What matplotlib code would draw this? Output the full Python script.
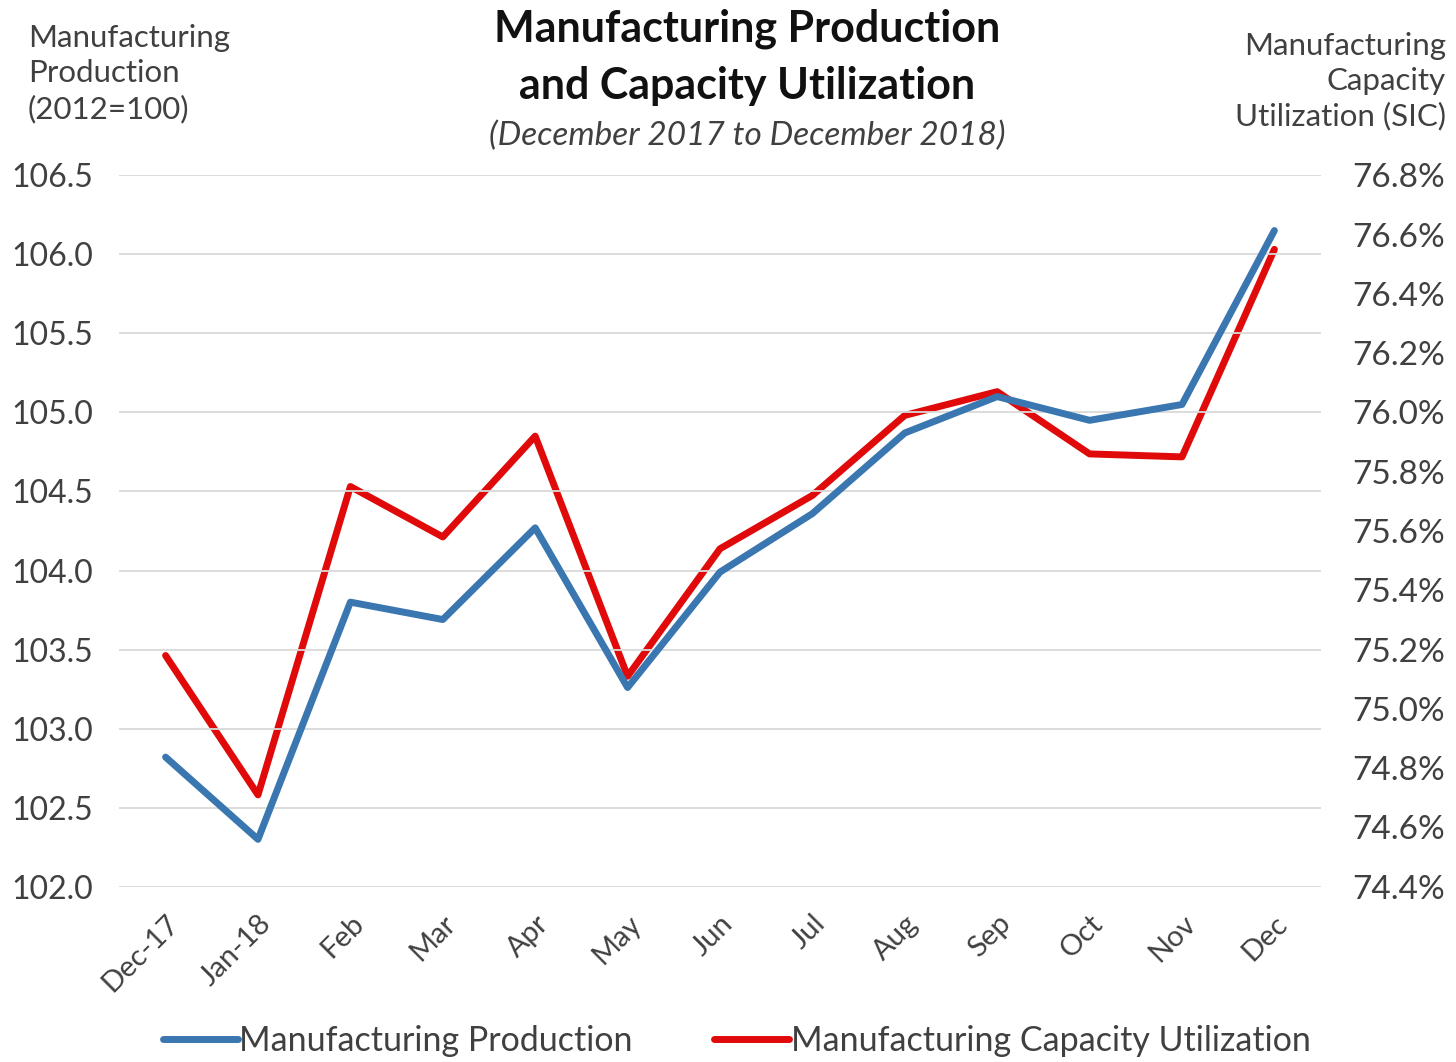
import numpy as np
import matplotlib.pyplot as plt
from matplotlib.ticker import FuncFormatter

plt.rcParams['font.family'] = ['Lato', 'DejaVu Sans']

months = ["Dec-17", "Jan-18", "Feb", "Mar", "Apr", "May", "Jun",
          "Jul", "Aug", "Sep", "Oct", "Nov", "Dec"]
production = [102.82, 102.30, 103.80, 103.69, 104.27, 103.26, 103.99,
              104.36, 104.87, 105.10, 104.95, 105.05, 106.15]
capacity = [75.18, 74.71, 75.75, 75.58, 75.92, 75.11, 75.54,
            75.72, 75.99, 76.07, 75.86, 75.85, 76.55]

blue = '#3a76b0'
red = '#e00a0a'
text_col = '#404040'

fig = plt.figure(figsize=(14.56, 10.62), dpi=100)
ax = fig.add_axes([0.082, 0.165, 0.825, 0.670])
ax2 = ax.twinx()

x = np.arange(len(months))
l1, = ax.plot(x, production, color=blue, lw=5, solid_joinstyle='round',
              solid_capstyle='round', label='Manufacturing Production')
l2, = ax2.plot(x, capacity, color=red, lw=5, solid_joinstyle='round',
               solid_capstyle='round',
               label='Manufacturing Capacity Utilization')

ax.set_xlim(-0.5, len(months) - 0.5)
ax.set_ylim(102.0, 106.5)
ax.set_yticks(np.arange(102.0, 106.51, 0.5))
ax.yaxis.set_major_formatter(FuncFormatter(lambda v, p: f'{v:.1f}'))
ax2.set_ylim(74.4, 76.8)
ax2.set_yticks(np.arange(74.4, 76.81, 0.2))
ax2.yaxis.set_major_formatter(FuncFormatter(lambda v, p: f'{v:.1f}%'))

ax.grid(axis='y', color='#d9d9d9', lw=1.3)
ax.set_axisbelow(True)
for a in (ax, ax2):
    for s in a.spines.values():
        s.set_visible(False)
    a.tick_params(length=0, colors=text_col, labelsize=23)
ax.tick_params(axis='y', pad=19)
ax2.tick_params(axis='y', pad=23, labelsize=24)
ax.set_xticks(x)
ax.set_xticklabels(months, rotation=45, ha='right', rotation_mode='anchor',
                   fontsize=21)
ax.tick_params(axis='x', pad=17)
ax.set_zorder(ax2.get_zorder() + 1)
ax.patch.set_visible(False)
ax2.set_zorder(0)

# titles and axis captions
fig.text(0.513, 0.973, 'Manufacturing Production', ha='center', va='center',
         fontsize=31, fontweight='bold', color='#111111')
fig.text(0.513, 0.919, 'and Capacity Utilization', ha='center', va='center',
         fontsize=31, fontweight='bold', color='#111111')
fig.text(0.513, 0.872, '(December 2017 to December 2018)', ha='center',
         va='center', fontsize=24, style='italic', color=text_col)
fig.text(0.019, 0.977, 'Manufacturing\nProduction\n(2012=100)', ha='left',
         va='top', fontsize=22.5, color=text_col, linespacing=1.3)
fig.text(0.993, 0.970, 'Manufacturing\nCapacity\nUtilization (SIC)',
         ha='right', va='top', fontsize=22.5, color=text_col, linespacing=1.3)

fig.legend(handles=[l1, l2], loc='lower center', ncol=2, frameon=False,
           fontsize=24.5, bbox_to_anchor=(0.506, -0.024), handlelength=2.2,
           handletextpad=0.05, columnspacing=2.4, labelcolor=text_col)

fig.savefig('out.png', dpi=100, facecolor='white')
